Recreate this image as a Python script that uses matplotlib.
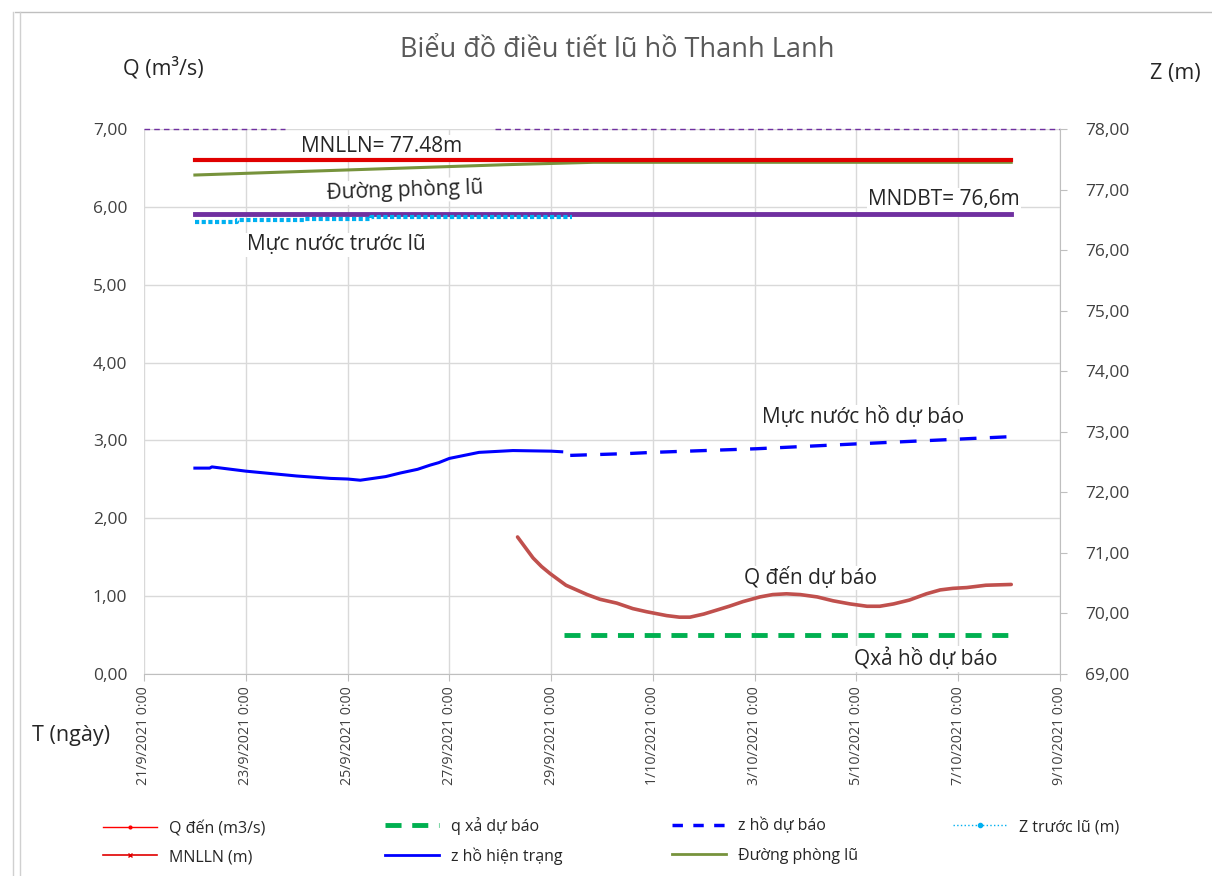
import matplotlib
matplotlib.use('Agg')
import matplotlib.pyplot as plt
from matplotlib.lines import Line2D
import pandas as pd

plt.rcParams['font.family'] = ['Open Sans', 'DejaVu Sans']

# ---------------- data ----------------
x_ticks = pd.date_range('2021-09-21', '2021-10-09', freq='2D')

# z hồ hiện trạng (m) - right axis
z_ht_time = ['2021-09-22 00:00', '2021-09-22 07:00', '2021-09-22 08:00', '2021-09-23 00:00',
             '2021-09-24 00:00', '2021-09-24 16:00', '2021-09-25 00:00', '2021-09-25 06:00',
             '2021-09-25 18:00', '2021-09-26 01:00', '2021-09-26 09:00', '2021-09-26 15:00',
             '2021-09-26 19:00', '2021-09-27 00:00', '2021-09-27 14:00', '2021-09-28 06:00',
             '2021-09-29 00:00', '2021-09-29 05:00']
z_ht_val = [72.40, 72.40, 72.42, 72.35, 72.27, 72.23, 72.22, 72.20,
            72.26, 72.32, 72.38, 72.45, 72.49, 72.56, 72.66, 72.69,
            72.68, 72.67]

# z hồ dự báo (m) - right axis
z_db_time = ['2021-09-29 09:00', '2021-09-30 12:00', '2021-10-01 00:00', '2021-10-03 01:00',
             '2021-10-05 00:00', '2021-10-07 01:00', '2021-10-08 01:00']
z_db_val = [72.61, 72.64, 72.66, 72.72, 72.80, 72.88, 72.92]

# Q đến dự báo (m3/s) - left axis
q_den_time = ['2021-09-28 08:10', '2021-09-28 12:30', '2021-09-28 15:30', '2021-09-28 19:30',
              '2021-09-28 23:30', '2021-09-29 03:30', '2021-09-29 07:00', '2021-09-29 12:00',
              '2021-09-29 17:00', '2021-09-29 23:00', '2021-09-30 07:00', '2021-09-30 14:30',
              '2021-09-30 21:00', '2021-10-01 06:30', '2021-10-01 12:30', '2021-10-01 17:30',
              '2021-10-02 00:00', '2021-10-02 06:00', '2021-10-02 12:00', '2021-10-02 18:30',
              '2021-10-03 02:30', '2021-10-03 08:30', '2021-10-03 15:00', '2021-10-03 21:30',
              '2021-10-04 05:30', '2021-10-04 13:00', '2021-10-04 21:00', '2021-10-05 05:00',
              '2021-10-05 11:00', '2021-10-05 17:30', '2021-10-06 01:00', '2021-10-06 09:00',
              '2021-10-06 15:30', '2021-10-06 21:30', '2021-10-07 04:00', '2021-10-07 10:00',
              '2021-10-07 13:00', '2021-10-08 01:00']
q_den_val = [1.76, 1.60, 1.49, 1.38, 1.29, 1.21, 1.14, 1.08, 1.02, 0.96, 0.91, 0.84,
             0.80, 0.75, 0.73, 0.73, 0.77, 0.82, 0.87, 0.93, 0.99, 1.02, 1.03, 1.02,
             0.99, 0.94, 0.90, 0.87, 0.87, 0.90, 0.95, 1.03, 1.08, 1.10, 1.11, 1.13,
             1.14, 1.15]

# q xả dự báo (m3/s) - left axis
q_xa_time = ['2021-09-29 06:00', '2021-10-08 01:00']
q_xa_val = [0.50, 0.50]

# MNLLN, MNDBT (m) - right axis
mn_time = ['2021-09-22 00:00', '2021-10-08 01:00']
mnlln_val = [77.48, 77.48]
mndbt_val = [76.6, 76.6]

# Đường phòng lũ (m)
dpl_time = ['2021-09-22 00:00', '2021-09-28 02:00', '2021-09-29 20:00', '2021-10-08 01:00']
dpl_val = [77.24, 77.41, 77.45, 77.45]

# Z trước lũ (m)
ztl_time = ['2021-09-22 00:00', '2021-09-22 20:00', '2021-09-24 04:00', '2021-09-25 11:00',
            '2021-09-28 02:00', '2021-09-29 10:00']
ztl_val = [76.46, 76.50, 76.51, 76.54, 76.55, 76.55]

q_ticks = [0, 1, 2, 3, 4, 5, 6, 7]
z_ticks = [69, 70, 71, 72, 73, 74, 75, 76, 77, 78]

# ---------------- figure ----------------
W, H = 1212, 876
def fx(p): return p / W
def fy(p): return 1 - p / H

fig = plt.figure(figsize=(W / 100, H / 100), dpi=100)
ax = fig.add_axes([fx(144), fy(674), (1060 - 144) / W, (674 - 129) / H])
ax2 = ax.twinx()

T = pd.to_datetime
grid_c = '#D9D9D9'
tick_c = '#404040'

ax.set_xlim(T('2021-09-21'), T('2021-10-09'))
ax.set_ylim(0, 7)
ax2.set_ylim(69, 78)
ax.set_xticks(x_ticks)
ax.set_xticklabels([f"{d.day}/{d.month}/{d.year} 0:00" for d in x_ticks],
                   rotation=90, fontsize=10.2, color=tick_c)
ax.set_yticks(q_ticks)
ax.set_yticklabels([f"{v:.2f}".replace('.', ',') for v in q_ticks], fontsize=12.5, color=tick_c)
ax2.set_yticks(z_ticks)
ax2.set_yticklabels([f"{v:.2f}".replace('.', ',') for v in z_ticks], fontsize=12.5, color=tick_c)

ax.grid(True, color=grid_c, lw=1)
ax.set_axisbelow(True)
for a in (ax, ax2):
    for s in ('top', 'left'):
        a.spines[s].set_visible(False)
    a.spines['bottom'].set_color('#BFBFBF')
    a.spines['right'].set_color('#BFBFBF')
ax2.spines['bottom'].set_visible(False)
ax.spines['right'].set_visible(False)
ax.tick_params(axis='y', length=0, pad=12)
ax.tick_params(axis='x', length=5, color='#BFBFBF', pad=4)
ax2.tick_params(axis='y', length=5, color='#BFBFBF', pad=13)

# top dashed purple boundary (with gap under label)
ax2.axhline(78, xmin=0, xmax=(285 - 144) / 916, color='#7030A0', ls=(0, (4, 3)), lw=1, clip_on=False)
ax2.axhline(78, xmin=(495 - 144) / 916, xmax=1, color='#7030A0', ls=(0, (4, 3)), lw=1, clip_on=False)

# series
ax.plot(T(q_den_time), q_den_val, color='#C0504D', lw=2.6, zorder=5, solid_capstyle='round')
ax.plot(T(q_xa_time), q_xa_val, color='#00B050', lw=3.5, ls=(0, (3.3, 2.2)), zorder=5)

ax2.plot(T(dpl_time), dpl_val, color='#77933C', lw=2.2, zorder=3)
ax2.plot(T(mn_time), mnlln_val, color='#E00000', lw=3.0, zorder=4)
ax2.plot(T(mn_time), mndbt_val, color='#7030A0', lw=3.5, zorder=3)
ax2.plot(T(ztl_time), ztl_val, color='#00B0F0', lw=3.0, ls=(0, (1, 0.6)), drawstyle='steps-post', zorder=3)
ax2.plot(T(z_ht_time), z_ht_val, color='#0000FF', lw=2.2, zorder=4)
ax2.plot(T(z_db_time), z_db_val, color='#0000FF', lw=2.4, ls=(0, (5, 4)), zorder=4)

# annotation texts
tc = '#262626'
box = dict(facecolor='white', edgecolor='none', pad=1.0)
def lab(px, py, s, size=15, rot=0):
    ax.text(fx(px), fy(py), s, transform=fig.transFigure, ha='center', va='center',
            fontsize=size, color=tc, rotation=rot, bbox=box, zorder=3)

lab(382, 147, 'MNLLN= 77.48m')
lab(405, 191, 'Đường phòng lũ', rot=2)
lab(944, 200, 'MNDBT= 76,6m')
lab(336, 245, 'Mực nước trước lũ')
lab(863, 417, 'Mực nước hồ dự báo')
lab(811, 578, 'Q đến dự báo')
lab(926, 659, 'Qxả hồ dự báo')

fig.text(fx(617), fy(50), 'Biểu đồ điều tiết lũ hồ Thanh Lanh', ha='center', va='center',
         fontsize=19.5, color='#595959')
fig.text(fx(163), fy(68), 'Q (m³/s)', ha='center', va='center', fontsize=15.5, color=tc)
fig.text(fx(1175), fy(73), 'Z (m)', ha='center', va='center', fontsize=15.5, color=tc)
fig.text(fx(71), fy(735), 'T (ngày)', ha='center', va='center', fontsize=15.5, color=tc)

# chart frame
fig.add_artist(Line2D([fx(15), fx(1212)], [fy(12), fy(12)], color='#BFBFBF', lw=1))
fig.add_artist(Line2D([fx(13), fx(13)], [fy(12), fy(876)], color='#D0D0D0', lw=1))
fig.add_artist(Line2D([fx(20), fx(20)], [fy(12), fy(876)], color='#D0D0D0', lw=1))

# legend: one entry per box, placed on the reference grid
legend_items = [
    (103, 829, Line2D([], [], color='#FF0000', lw=1, marker='.', ms=4), 'Q đến (m3/s)'),
    (103, 857, Line2D([], [], color='#E00000', lw=1.2, marker='x', ms=3.5), 'MNLLN (m)'),
    (385, 826, Line2D([], [], color='#00B050', lw=3.5, ls=(0, (3.3, 2.2))), 'q xả dự báo'),
    (385, 856, Line2D([], [], color='#0000FF', lw=2), 'z hồ hiện trạng'),
    (672, 826, Line2D([], [], color='#0000FF', lw=2.5, ls=(0, (3, 3))), 'z hồ dự báo'),
    (672, 856, Line2D([], [], color='#77933C', lw=2), 'Đường phòng lũ'),
    (953, 827, Line2D([], [], color='#00B0F0', lw=1, ls=':', marker='o', ms=3), 'Z trước lũ (m)'),
]
for px, py, h, l in legend_items:
    fig.legend([h], [l], loc='center left', bbox_to_anchor=(fx(px), fy(py)),
               frameon=False, fontsize=11.5, handlelength=3.4, handletextpad=0.75,
               borderpad=0, borderaxespad=0, labelcolor=tc)

fig.savefig('out.png', dpi=100)
